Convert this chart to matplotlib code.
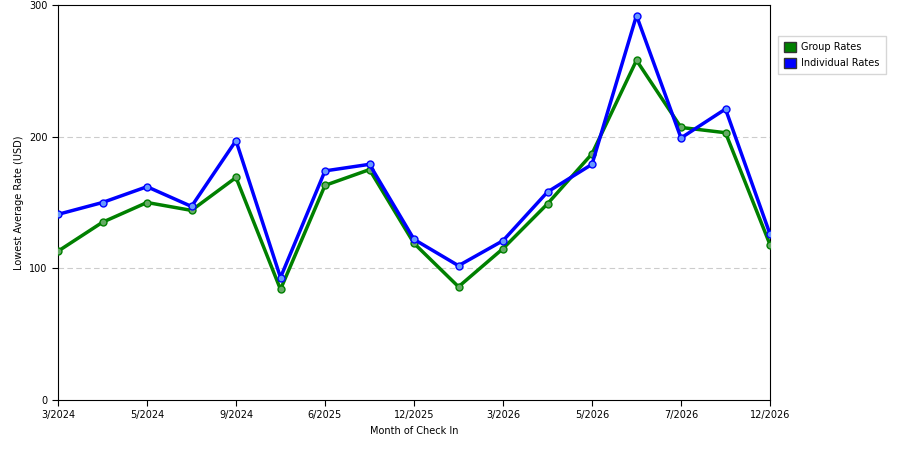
import matplotlib
matplotlib.use("Agg")
import matplotlib.pyplot as plt
from matplotlib.patches import Patch

tick_labels = ["3/2024", "", "5/2024", "", "9/2024", "", "6/2025", "", "12/2025", "",
               "3/2026", "", "5/2026", "", "7/2026", "", "12/2026"]
group_rates = [113, 135, 150, 144, 169, 84, 163, 175, 119, 86, 115, 149, 187, 258, 207, 203, 118]
individual_rates = [141, 150, 162, 147, 197, 93, 174, 179, 122, 102, 121, 158, 179, 292, 199, 221, 126]

fig = plt.figure(figsize=(9, 4.5), dpi=100)
ax = fig.add_axes([58/900, 50/450, 712/900, 395/450])
x = list(range(len(group_rates)))
green, blue = "#008000", "#0000ff"
ax.plot(x, group_rates, color=green, lw=2.5, marker="o", ms=5,
        markerfacecolor="#66aa66", markeredgecolor=green, zorder=3)
ax.plot(x, individual_rates, color=blue, lw=2.5, marker="o", ms=5,
        markerfacecolor="#6699ff", markeredgecolor=blue, zorder=4)
ax.set_xlim(0, len(x) - 1)
ax.set_ylim(0, 300)
ax.set_yticks([0, 100, 200, 300])
ax.set_xticks([i for i, t in enumerate(tick_labels) if t])
ax.set_xticklabels([t for t in tick_labels if t])
ax.tick_params(labelsize=7, length=4)
for y in [100, 200]:
    ax.axhline(y, color="#cccccc", lw=0.8, ls=(0, (5, 3)), zorder=1)
ax.set_xlabel("Month of Check In", fontsize=7)
ax.set_ylabel("Lowest Average Rate (USD)", fontsize=7)
fig.legend(handles=[Patch(facecolor=green, edgecolor="#333333", label="Group Rates"),
                    Patch(facecolor=blue, edgecolor="#333333", label="Individual Rates")],
           loc="upper left", bbox_to_anchor=(778/900, 1 - 36/450), fontsize=7,
           frameon=True, fancybox=False, edgecolor="#cccccc", handlelength=1.2,
           handleheight=1.2, borderpad=0.6, labelspacing=0.6, handletextpad=0.6,
           borderaxespad=0)
fig.savefig("out.png", dpi=100)
